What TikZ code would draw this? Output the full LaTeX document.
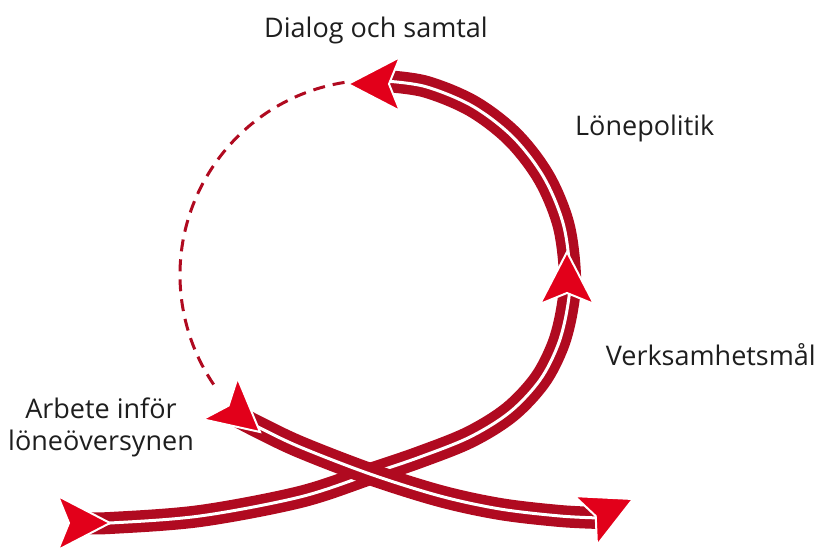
\documentclass[tikz,border=0pt]{standalone}
\usepackage{fontspec}
\setmainfont{Open Sans}
\definecolor{bandred}{RGB}{176,10,32}
\definecolor{headred}{RGB}{226,0,26}
\definecolor{txt}{RGB}{30,30,30}
\tikzset{
  band/.style={draw=bandred, line width=9.5pt, double=white, double distance=3pt},
  dashline/.style={draw=bandred, line width=3pt, dash pattern=on 12pt off 8pt},
  lbl/.style={inner sep=0pt, text=txt, font=\fontsize{27}{32}\selectfont},
  redhead/.pic={\filldraw[fill=headred, draw=white, line width=2pt, miter limit=20] (0,0) -- (-52,27) -- (-41,0) -- (-52,-27) -- cycle;}
}
\begin{document}
\begin{tikzpicture}[x=1pt,y=-1pt]
\useasboundingbox (0,0) rectangle (820,549);
% named points
\coordinate (aStart) at (80,523);
\coordinate (aTip) at (110,523);
\coordinate (cross) at (370,474);
\coordinate (aEnd) at (385,81);
\coordinate (bStart) at (235,415);
\coordinate (bTip) at (260,428);
\coordinate (bEnd) at (600,518);
\coordinate (dStart) at (344.5,82.4);
% band A
\draw[band] plot[smooth, tension=0.55] coordinates {(aStart) (aTip) (200,516) (300,497) (cross) (420,457) (470,437) (510,412) (540,380) (558,345) (567,310) (570,275) (563.4,224.5) (543.9,177.5) (512.9,137.1) (472.5,106.1) (425.5,86.6) (aEnd)};
% band B
\draw[band] plot[smooth, tension=0.55] coordinates {(bStart) (bTip) (300,447) (cross) (440,496) (500,509) (560,516) (bEnd)};
% dashed arc
\draw[dashline] (dStart) arc[start angle=261, end angle=144, radius=195];
% arrowheads
\pic[rotate=0] at (110,523) {redhead};
\pic[rotate=90] at (567,252) {redhead};
\pic[rotate=180] at (348,84) {redhead};
\pic[rotate=-40] at (260,432) {redhead};
\pic[rotate=24.6] at (633,499) {redhead};
% labels
\node[lbl, anchor=base] (dialog) at (376,37) {Dialog och samtal};
\node[lbl, anchor=base west] (lone) at (575,135) {Lönepolitik};
\node[lbl, anchor=base east] (verk) at (816,365) {Verksamhetsmål};
\node[lbl, anchor=base] (arb1) at (101,418) {Arbete inför};
\node[lbl, anchor=base] (arb2) at (101,450) {löneöversynen};
\end{tikzpicture}
\end{document}
